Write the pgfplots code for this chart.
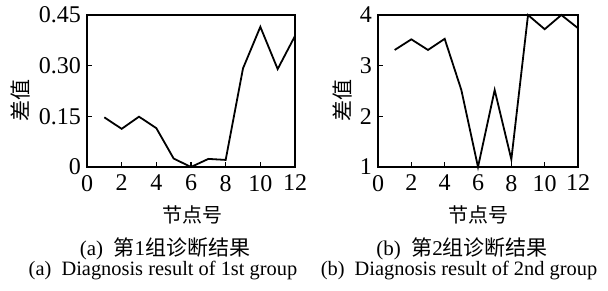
\documentclass[border=0pt]{standalone}
\usepackage{pgfplots}
\pgfplotsset{compat=1.18}
\usepackage{fontspec}
\setmainfont{Liberation Serif}
\newfontfamily\cjk{Noto Sans CJK SC}
\begin{document}
\begin{tikzpicture}
\useasboundingbox (0,0) rectangle (304pt,-145pt);
\pgfplotsset{
  myax/.style={
    scale only axis, width=#1, height=76pt,
    anchor=south west,
    xmin=0, xmax=12, xtick={0,2,...,12},
    tick pos=left, tick align=inside,
    major tick length=2.5pt,
    axis line style={line width=0.6pt}, tick style={line width=0.6pt, black},
    clip=false,
    /pgf/number format/assume math mode=true,
    tick label style={font=\fontsize{12}{14}\selectfont},
    xticklabel style={yshift=-0.5pt},
    yticklabel style={xshift=0.5pt},
  }
}
\begin{axis}[myax=104pt, at={(43.5pt,-83.5pt)},
  ymin=0, ymax=0.45, ytick={0,0.15,0.30,0.45},
  yticklabels={0,0.15,0.30,0.45}]
\addplot[black, line width=0.9pt] coordinates {
(1,0.147) (2,0.113) (3,0.149) (4,0.115) (5,0.025) (6,0.0) (7,0.024) (8,0.021) (9,0.292) (10,0.415) (11,0.290) (12,0.388)};
\end{axis}
\begin{axis}[myax=100pt, at={(189pt,-83.5pt)},
  ymin=1, ymax=4, ytick={1,2,3,4}]
\addplot[black, line width=0.9pt] coordinates {
(1,3.31) (2,3.52) (3,3.31) (4,3.53) (5,2.52) (6,1.0) (7,2.52) (8,1.15) (9,4.0) (10,3.72) (11,4.0) (12,3.74)};
\end{axis}
\node[rotate=90, font=\cjk\fontsize{10.5}{12}\selectfont] at (10pt,-50pt) {差值};
\node[rotate=90, font=\cjk\fontsize{10.5}{12}\selectfont] at (171pt,-50pt) {差值};
\node[font=\cjk\fontsize{10}{11}\selectfont] at (96pt,-107.5pt) {节点号};
\node[font=\cjk\fontsize{10}{11}\selectfont] at (239pt,-107.5pt) {节点号};
\node[font=\fontsize{10.5}{12}\selectfont] at (82.5pt,-124.5pt) {(a)\ \ {\cjk 第}1{\cjk 组诊断结果}};
\node[font=\fontsize{10.5}{12}\selectfont] at (231pt,-124.5pt) {(b)\ \ {\cjk 第}2{\cjk 组诊断结果}};
\node[font=\fontsize{10.2}{12}\selectfont] at (81.5pt,-135.5pt) {(a)\ \ Diagnosis result of 1st group};
\node[font=\fontsize{10.2}{12}\selectfont] at (229.5pt,-135.5pt) {(b)\ \ Diagnosis result of 2nd group};
\end{tikzpicture}
\end{document}
